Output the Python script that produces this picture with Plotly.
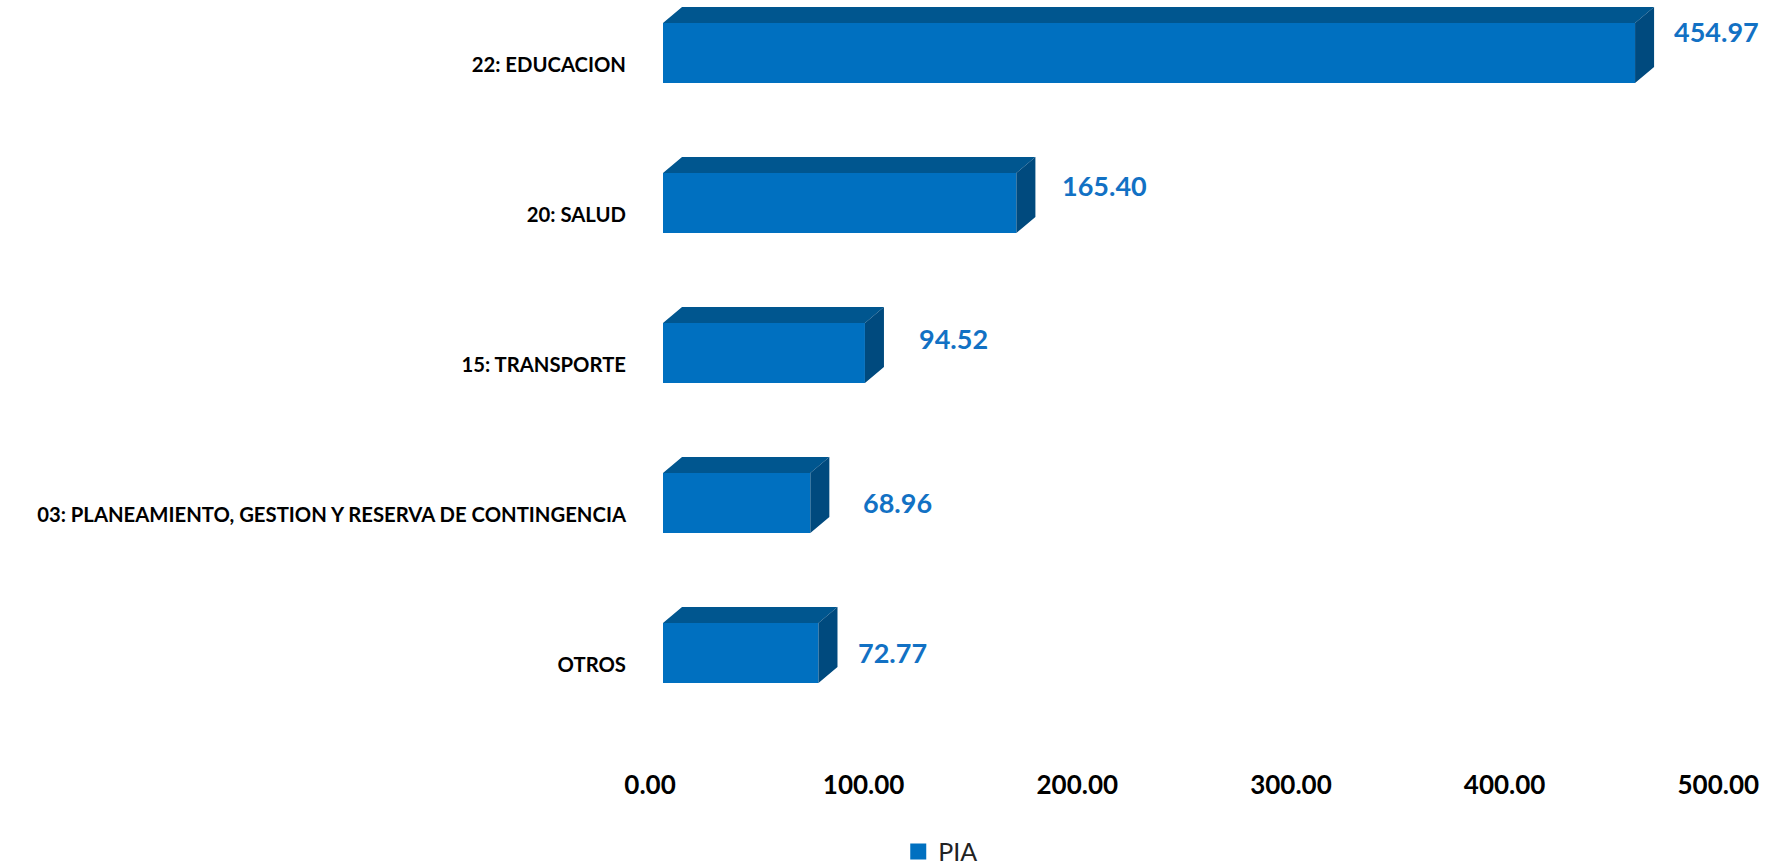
"""
PIA por función — barras horizontales con efecto 3D (Plotly)
"""

import plotly.graph_objects as go

# ── Datos ────────────────────────────────────────────────────────────────
CATEGORIES = [
    "22: EDUCACION",
    "20: SALUD",
    "15: TRANSPORTE",
    "03: PLANEAMIENTO, GESTION Y RESERVA DE CONTINGENCIA",
    "OTROS",
]
PIA = [454.97, 165.40, 94.52, 68.96, 72.77]
X_TICKS = [0, 100, 200, 300, 400, 500]

# ── Estilo ───────────────────────────────────────────────────────────────
COLORS = {
    "front": "#0070C0",
    "top": "#00568F",
    "side": "#004A7E",
    "label": "#1271C4",
    "text": "#000000",
}
FONT = "Lato, 'Open Sans', sans-serif"

BAR_W = 0.4      # grosor de la cara frontal (unidades de categoría)
DEPTH_X = 8.9    # profundidad horizontal (unidades de valor)
DEPTH_Y = 0.107  # profundidad vertical (unidades de categoría)

# desplazamiento (px) de cada etiqueta de valor, como en el original
LABEL_SHIFT = [(18, 21), (25, 17), (33, 14), (32, 0), (19, 0)]

ypos = list(range(len(CATEGORIES)))

fig = go.Figure()

# caras frontales
fig.add_trace(go.Bar(
    x=PIA, y=ypos, orientation="h", width=BAR_W,
    marker=dict(color=COLORS["front"], line=dict(width=0)),
    name="PIA", showlegend=False,
))

# caras superiores y laterales, calculadas a partir de los valores
top_x, top_y, side_x, side_y = [], [], [], []
for v, y in zip(PIA, ypos):
    y0 = y - BAR_W / 2
    y1 = y + BAR_W / 2
    top_x += [0, v, v + DEPTH_X, DEPTH_X, 0, None]
    top_y += [y0, y0, y0 - DEPTH_Y, y0 - DEPTH_Y, y0, None]
    side_x += [v, v + DEPTH_X, v + DEPTH_X, v, v, None]
    side_y += [y0, y0 - DEPTH_Y, y1 - DEPTH_Y, y1, y0, None]

for xs, ys, col in [(top_x, top_y, COLORS["top"]), (side_x, side_y, COLORS["side"])]:
    fig.add_trace(go.Scatter(
        x=xs, y=ys, mode="lines", fill="toself",
        fillcolor=col, line=dict(width=0, color=col),
        showlegend=False, hoverinfo="skip",
    ))

# entrada de leyenda con cuadrado grande
fig.add_trace(go.Scatter(
    x=[None], y=[None], mode="markers", name="PIA",
    marker=dict(symbol="square", size=18, color=COLORS["front"]),
))

# etiquetas de valor
for v, y, (dx, dy) in zip(PIA, ypos, LABEL_SHIFT):
    fig.add_annotation(
        x=v + DEPTH_X, y=y, text=f"{v:.2f}",
        xanchor="left", yanchor="middle", xshift=dx, yshift=dy,
        showarrow=False,
        font=dict(family=FONT, size=27, color=COLORS["label"], weight="bold"),
    )

fig.update_layout(
    width=1779, height=866,
    paper_bgcolor="white", plot_bgcolor="white",
    margin=dict(l=663, r=5, t=0, b=126, autoexpand=False),
    font=dict(family=FONT, color=COLORS["text"]),
    showlegend=True,
    legend=dict(
        orientation="h", x=0.25, y=-0.151, xanchor="center", yanchor="middle",
        itemwidth=30,
        font=dict(family=FONT, size=25, color="#222222"),
        bgcolor="rgba(0,0,0,0)",
    ),
)
fig.update_xaxes(
    range=[0, 520], tickvals=X_TICKS,
    ticktext=[f"{t:.2f}" for t in X_TICKS],
    showgrid=False, zeroline=False, showline=False, automargin=False,
    ticks="", ticklabelstandoff=27, ticklabelshift=-13,
    tickfont=dict(family=FONT, size=26, color=COLORS["text"], weight="bold"),
)
fig.update_yaxes(
    range=[4.58, -0.353], tickvals=ypos, ticktext=CATEGORIES,
    showgrid=False, zeroline=False, showline=False, automargin=False,
    ticks="", ticklabelstandoff=36, ticklabelshift=-12,
    tickfont=dict(family=FONT, size=20.3, color=COLORS["text"], weight="bold"),
)

# sin el margen por defecto del <body>, la figura ocupa la ventana exacta
fig.write_html(
    "out.html",
    config={"displayModeBar": False},
    post_script="document.body.style.margin='0';",
)
